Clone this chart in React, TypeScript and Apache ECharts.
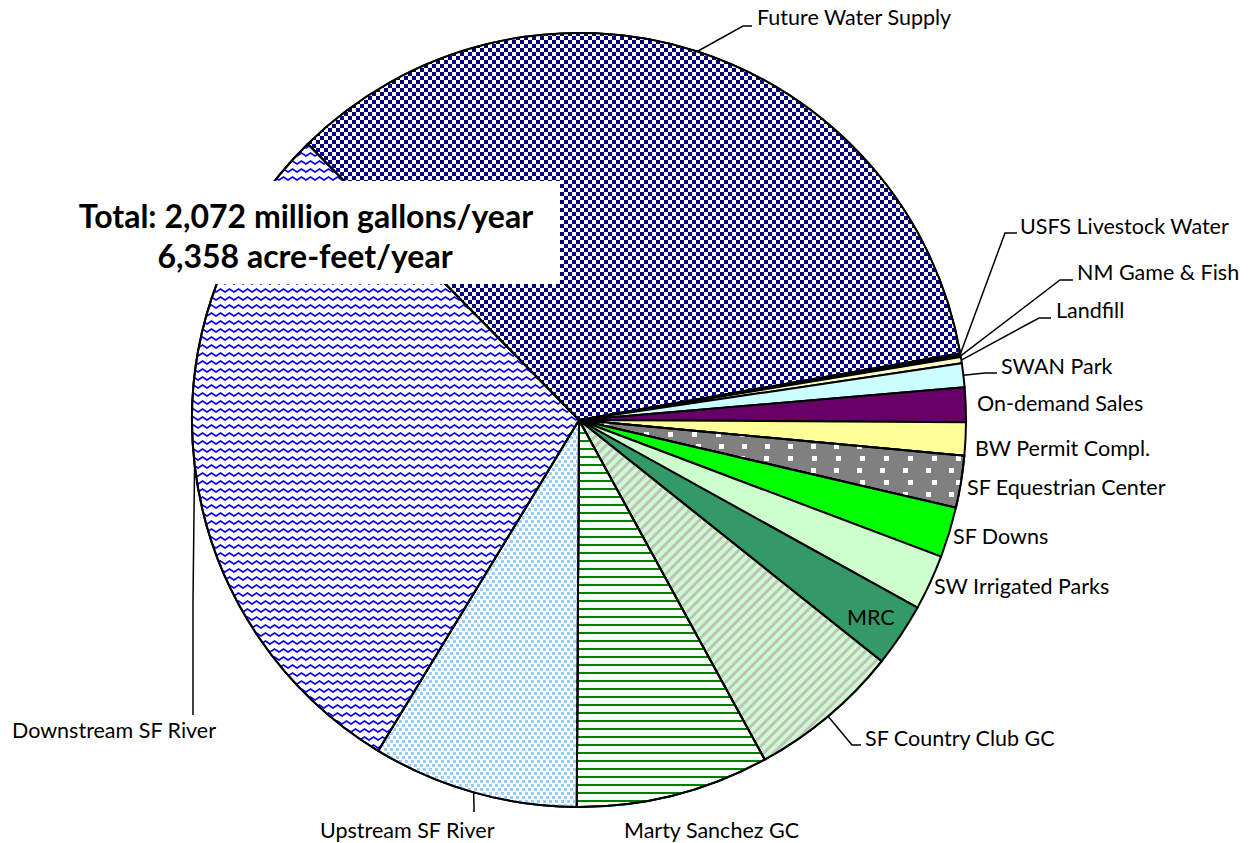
import React, { useEffect, useRef } from "react";
import * as echarts from "echarts";

// ---- data (million gallons / year) ----
const categories = [
  "Future Water Supply",
  "USFS Livestock Water",
  "NM Game & Fish",
  "Landfill",
  "SWAN Park",
  "On-demand Sales",
  "BW Permit Compl.",
  "SF Equestrian Center",
  "SF Downs",
  "SW Irrigated Parks",
  "MRC",
  "SF Country Club GC",
  "Marty Sanchez GC",
  "Upstream SF River",
  "Downstream SF River",
];
const values = [717, 1.5, 1.7, 5.5, 20.5, 30, 28.5, 45, 43.5, 48, 55, 131, 167, 178, 600];
const totalLines = ["Total: 2,072 million gallons/year", "6,358 acre-feet/year"];

// ---- styles ----
const sliceStyles: any[] = [
  { color: "#000080", decal: { symbol: "rect", color: "#ffffff", dashArrayX: [[4, 4], [0, 4, 4, 0]], dashArrayY: [4, 0], symbolSize: 1 } },
  { color: "#333399" },
  { color: "#993366" },
  { color: "#FFFFCC" },
  { color: "#CCFFFF" },
  { color: "#660066" },
  { color: "#FFFF99" },
  { color: "#808080", decal: { symbol: "rect", color: "#ffffff", dashArrayX: [[5, 18], [0, 11.5, 5, 6.5]], dashArrayY: [5, 6.5], symbolSize: 1 } },
  { color: "#00FF00" },
  { color: "#CCFFCC" },
  { color: "#339966" },
  { color: "#CCFFCC", decal: { symbol: "rect", color: "#C0C0C0", dashArrayX: [20, 0], dashArrayY: [3, 3.4], rotation: -Math.PI / 4, symbolSize: 1 } },
  { color: "#FFFFFF", decal: { symbol: "rect", color: "#008000", dashArrayX: [20, 0], dashArrayY: [2, 5.3], symbolSize: 1 } },
  { color: "#FFFFFF", decal: { symbol: "rect", color: "#99CCFF", dashArrayX: [[3, 3], [0, 3, 3, 0]], dashArrayY: [3, 1], symbolSize: 1 } },
  { color: "#FFFFFF", decal: { symbol: "path://M0,4 L4.5,0 L9,4 L9,6.5 L4.5,2.5 L0,6.5 Z", color: "#0000FF", dashArrayX: [9, 0], dashArrayY: [5, 3], symbolSize: 1, symbolKeepAspect: false } },
];

// label placement: left x, middle y, optional leader-line tail points
const labelPos: { x: number; y: number; line?: number[][] }[] = [
  { x: 757, y: 17, line: [[743, 26], [752, 26]] },
  { x: 1020, y: 226, line: [[1005, 233], [1017, 233]] },
  { x: 1077, y: 272, line: [[1060, 280], [1073, 280]] },
  { x: 1056, y: 310, line: [[1039, 318], [1051, 318]] },
  { x: 1001, y: 366, line: [[985, 373], [997, 373]] },
  { x: 977, y: 403 },
  { x: 975, y: 448 },
  { x: 967, y: 487 },
  { x: 953, y: 536 },
  { x: 934, y: 586 },
  { x: 847, y: 617 },
  { x: 865, y: 738, line: [[852, 745], [861, 745]] },
  { x: 624, y: 830 },
  { x: 320, y: 830, line: [[474, 805], [474, 812]] },
  { x: 12, y: 730, line: [[193, 600], [193, 715]] },
];

const FONT = "Lato, 'Open Sans', sans-serif";

export default function App() {
  const ref = useRef<HTMLDivElement>(null);
  useEffect(() => {
    if (!ref.current) return;
    const chart = echarts.init(ref.current, undefined, { renderer: "svg" });
    const data = categories.map((name, i) => ({
      name,
      value: values[i],
      itemStyle: { ...sliceStyles[i] },
      labelLine: { show: !!labelPos[i].line },
    }));
    chart.setOption({
      animation: false,
      backgroundColor: "#ffffff",
      series: [
        {
          type: "pie",
          center: [579, 420],
          radius: 387,
          startAngle: 134.5,
          clockwise: true,
          avoidLabelOverlap: false,
          silent: true,
          data,
          itemStyle: { borderColor: "#000000", borderWidth: 2 },
          label: {
            show: true,
            position: "outside",
            formatter: "{b}",
            color: "#000000",
            fontFamily: FONT,
            fontSize: 21.5,
          },
          labelLine: {
            show: true,
            length: 10,
            length2: 10,
            lineStyle: { color: "#000000", width: 1.5 },
          },
          labelLayout: (params: any) => {
            const p = labelPos[params.dataIndex];
            const res: any = { x: p.x, y: p.y, align: "left", verticalAlign: "middle" };
            if (p.line && params.labelLinePoints) {
              res.labelLinePoints = [params.labelLinePoints[0], ...p.line];
            }
            return res;
          },
        },
      ],
      graphic: [
        { type: "rect", z: 100, shape: { x: 60, y: 181, width: 500, height: 103 }, style: { fill: "#ffffff" } },
        {
          type: "text", z: 101, x: 306, y: 215,
          style: { text: totalLines[0], fill: "#000", font: `bold 32px ${FONT}`, align: "center", verticalAlign: "middle" },
        },
        {
          type: "text", z: 101, x: 305, y: 255,
          style: { text: totalLines[1], fill: "#000", font: `bold 32px ${FONT}`, align: "center", verticalAlign: "middle" },
        },
      ],
    });
    return () => chart.dispose();
  }, []);
  return (
    <div
      ref={ref}
      style={{ position: "absolute", left: 0, top: 0, width: 1248, height: 843, background: "#fff" }}
    />
  );
}
